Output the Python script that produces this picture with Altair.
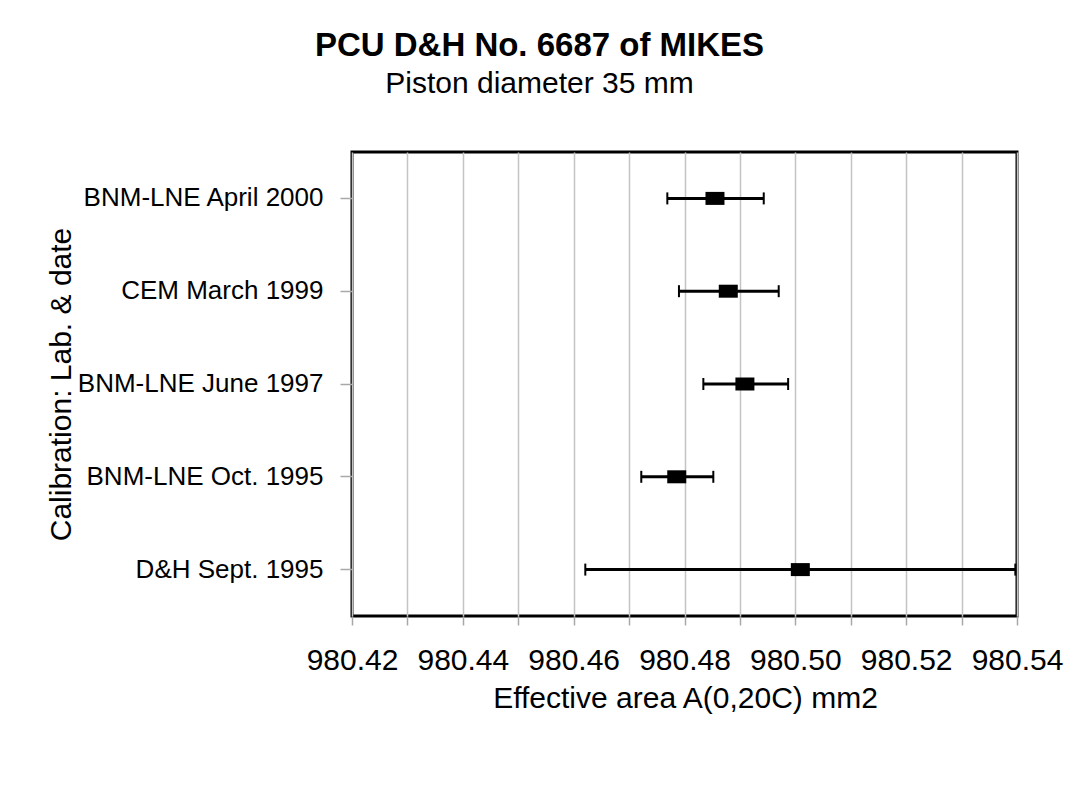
import altair as alt
import pandas as pd

labs = ["BNM-LNE April 2000", "CEM March 1999", "BNM-LNE June 1997",
        "BNM-LNE Oct. 1995", "D&H Sept. 1995"]
centers = [980.4855, 980.4879, 980.4909, 980.4786, 980.5009]
lows = [980.4769, 980.4790, 980.4834, 980.4722, 980.4621]
highs = [980.4943, 980.4970, 980.4987, 980.4852, 980.5397]
x_ticks = [980.42, 980.43, 980.44, 980.45, 980.46, 980.47, 980.48,
           980.49, 980.50, 980.51, 980.52, 980.53, 980.54]

df = pd.DataFrame({"lab": labs, "c": centers, "lo": lows, "hi": highs})

FONT = "Liberation Sans"
GRAY = "#a8a8a8"

xs = alt.Scale(domain=[980.42, 980.54], nice=False, zero=False)
ys = alt.Scale(type="band", domain=labs, paddingInner=0, paddingOuter=0)

x_axis = alt.Axis(
    values=x_ticks,
    labelExpr="round(datum.value*100) % 2 == 0 ? format(datum.value, '.2f') : ''",
    grid=True, gridColor="#c4c4c4", gridWidth=1.5,
    domain=False, ticks=True, tickColor=GRAY, tickSize=9, tickWidth=1.5,
    labelFont=FONT, labelFontSize=30, labelColor="black",
    labelBaseline="alphabetic", labelPadding=44, labelFlush=False,
    labelOverlap=False, labelLimit=400,
    titleFont=FONT, titleFontSize=30, titleFontWeight="normal",
    titleColor="black", titleBaseline="alphabetic", titleY=91,
    titleX=333, titleAlign="center",
)
y_axis = alt.Axis(
    grid=False, domain=False, ticks=True, tickColor=GRAY, tickSize=12,
    tickWidth=1.5, labelFont=FONT, labelFontSize=26, labelColor="black",
    labelPadding=17, labelLimit=400,
    titleFont=FONT, titleFontSize=30, titleFontWeight="normal",
    titleColor="black", titleX=-282, titleY=232, titleBaseline="alphabetic",
    titleAlign="center", titleAngle=-90, titleLimit=600,
)

XT = "Effective area A(0,20C) mm2"
YT = "Calibration: Lab. & date"

y_enc = alt.Y("lab:N", scale=ys, sort=labs, axis=y_axis, title=YT)

base = alt.Chart(df)

rules = base.mark_rule(color="black", strokeWidth=3).encode(
    x=alt.X("lo:Q", scale=xs, axis=x_axis, title=XT),
    x2="hi:Q",
    y=y_enc,
)
cap_lo = base.mark_tick(color="black", thickness=2, size=12, opacity=1).encode(
    x=alt.X("lo:Q", scale=xs, axis=x_axis, title=XT),
    y=y_enc,
)
cap_hi = base.mark_tick(color="black", thickness=2, size=12, opacity=1).encode(
    x=alt.X("hi:Q", scale=xs, axis=x_axis, title=XT),
    y=y_enc,
)
boxes = base.mark_tick(color="black", thickness=19, size=13, opacity=1).encode(
    x=alt.X("c:Q", scale=xs, axis=x_axis, title=XT),
    y=y_enc,
)

chart = alt.layer(rules, cap_lo, cap_hi, boxes).properties(
    width=665,
    height=464,
    background="white",
    title=alt.TitleParams(
        text="PCU D&H No. 6687 of MIKES",
        subtitle="Piston diameter 35 mm",
        font=FONT, fontSize=33, fontWeight="bold", color="black",
        subtitleFont=FONT, subtitleFontSize=30, subtitleColor="black",
        anchor="middle", dx=-145, offset=53, subtitlePadding=6,
    ),
    autosize=alt.AutoSizeParams(type="none"),
    padding={"left": 344, "top": 144, "right": 48, "bottom": 140},
).configure_view(
    stroke="black", strokeWidth=3
)

chart.save("out.html", embed_options={"renderer": "svg", "actions": False})
